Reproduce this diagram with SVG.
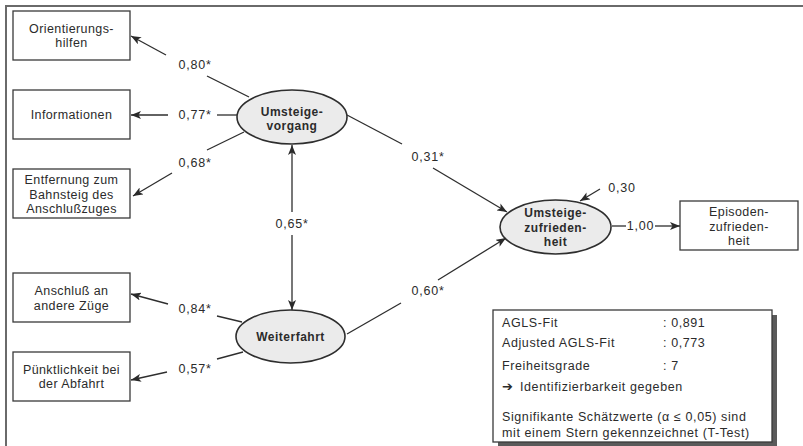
<svg xmlns="http://www.w3.org/2000/svg" width="803" height="446" viewBox="0 0 803 446">
<style>
text{font-family:"Liberation Sans",Arial,sans-serif;fill:#2b2b2b}
.bt{font-size:12.5px;letter-spacing:0.4px;text-anchor:middle}
.et{font-size:12px;font-weight:bold;letter-spacing:0.5px;text-anchor:middle}
.lb{font-size:12.5px;letter-spacing:0.8px;text-anchor:middle}
.it{font-size:12.5px;letter-spacing:0.6px}
.box{fill:#fff;stroke:#3a3a3a;stroke-width:1.3}
.ell{fill:#ebebeb;stroke:#2e2e2e;stroke-width:1.6}
.con line{stroke:#2e2e2e;stroke-width:1.3}
.ar{marker-end:url(#ah)}
</style>
<defs>
<marker id="ah" viewBox="0 0 10 8" refX="10" refY="4" markerWidth="10" markerHeight="8" markerUnits="userSpaceOnUse" orient="auto">
<path d="M0,0 L10,4 L0,8 L2.5,4 z" fill="#2a2a2a"/>
</marker>
</defs>
<rect width="803" height="446" fill="#fff"/>
<g id="frame" stroke="#6a6a6a" stroke-width="2" fill="none">
<line x1="5" y1="6" x2="803" y2="6"/>
<line x1="6" y1="5" x2="6" y2="446"/>
</g>

<g id="n-orient"><rect class="box" x="13" y="11" width="117" height="49"/><text class="bt" x="71.5" y="33">Orientierungs-</text><text class="bt" x="71.5" y="47">hilfen</text></g>
<g id="n-info"><rect class="box" x="13" y="90" width="117" height="49"/><text class="bt" x="71.5" y="119">Informationen</text></g>
<g id="n-entf"><rect class="box" x="13" y="169" width="117" height="49"/><text class="bt" x="71.5" y="184">Entfernung zum</text><text class="bt" x="71.5" y="198.5">Bahnsteig des</text><text class="bt" x="71.5" y="213">Anschlußzuges</text></g>
<g id="n-ansch"><rect class="box" x="13" y="273" width="117" height="49"/><text class="bt" x="71.5" y="295">Anschluß an</text><text class="bt" x="71.5" y="309.5">andere Züge</text></g>
<g id="n-puenkt"><rect class="box" x="13" y="352" width="117" height="49"/><text class="bt" x="71.5" y="373.5">Pünktlichkeit bei</text><text class="bt" x="71.5" y="387.5">der Abfahrt</text></g>
<g id="n-vorgang"><ellipse class="ell" cx="292" cy="117" rx="55" ry="27"/><text class="et" x="292" y="116">Umsteige-</text><text class="et" x="292" y="129.5">vorgang</text></g>
<g id="n-weiter"><ellipse class="ell" cx="290.5" cy="336.5" rx="54.5" ry="26.5"/><text class="et" x="290.5" y="341">Weiterfahrt</text></g>
<g id="n-zufr"><ellipse class="ell" cx="555.5" cy="227" rx="55.5" ry="27"/><text class="et" x="555.5" y="217">Umsteige-</text><text class="et" x="555.5" y="231.5">zufrieden-</text><text class="et" x="555.5" y="246">heit</text></g>
<g id="n-episod"><rect class="box" x="680" y="201" width="118" height="49"/><text class="bt" x="739" y="216">Episoden-</text><text class="bt" x="739" y="230.5">zufrieden-</text><text class="bt" x="739" y="245">heit</text></g>

<g id="connectors" class="con">
<line x1="249" y1="97" x2="207" y2="76"/><line class="ar" x1="166" y1="55" x2="131" y2="36"/>
<line x1="237" y1="115" x2="217" y2="115"/><line class="ar" x1="168" y1="115" x2="131" y2="115"/>
<line x1="244" y1="132" x2="207" y2="150"/><line class="ar" x1="172" y1="173" x2="133" y2="196"/>
<line x1="242" y1="322" x2="217" y2="316"/><line class="ar" x1="168" y1="304" x2="131" y2="294"/>
<line x1="243" y1="352" x2="217" y2="359"/><line class="ar" x1="167" y1="372" x2="131" y2="380"/>
<line class="ar" x1="292" y1="212" x2="292" y2="145"/>
<line class="ar" x1="292" y1="235" x2="292" y2="310"/>
<line x1="347" y1="115" x2="402" y2="144"/><line class="ar" x1="433" y1="168" x2="507" y2="212"/>
<line x1="347" y1="334" x2="401" y2="303"/><line class="ar" x1="438" y1="280" x2="506" y2="238"/>
<line class="ar" x1="600" y1="189" x2="580" y2="201"/>
<line x1="612" y1="226" x2="626" y2="226"/><line class="ar" x1="655" y1="226" x2="680" y2="226"/>
</g>

<g id="labels">
<text class="lb" x="195" y="69">0,80*</text>
<text class="lb" x="195" y="119">0,77*</text>
<text class="lb" x="195" y="167">0,68*</text>
<text class="lb" x="195" y="313">0,84*</text>
<text class="lb" x="195" y="373">0,57*</text>
<text class="lb" x="292" y="228">0,65*</text>
<text class="lb" x="428" y="161">0,31*</text>
<text class="lb" x="428" y="295">0,60*</text>
<text class="lb" x="622" y="192">0,30</text>
<text class="lb" x="640.5" y="230">1,00</text>
</g>

<g id="fitbox">
<rect x="498" y="315" width="279" height="131" fill="#5a5a5a"/>
<rect class="box" x="493" y="310" width="279" height="132"/>
<text class="it" x="502" y="327">AGLS-Fit</text><text class="it" x="663" y="327">: 0,891</text>
<text class="it" x="502" y="347">Adjusted AGLS-Fit</text><text class="it" x="663" y="347">: 0,773</text>
<text class="it" x="502" y="370">Freiheitsgrade</text><text class="it" x="663" y="370">: 7</text>
<text class="it" x="502" y="391"><tspan font-family="'DejaVu Sans',sans-serif" font-size="13px" font-weight="bold">➔</tspan><tspan x="520">Identifizierbarkeit gegeben</tspan></text>
<text class="it" x="502" y="421">Signifikante Schätzwerte (α ≤ 0,05) sind</text>
<text class="it" x="502" y="437">mit einem Stern gekennzeichnet (T-Test)</text>
</g>
</svg>
